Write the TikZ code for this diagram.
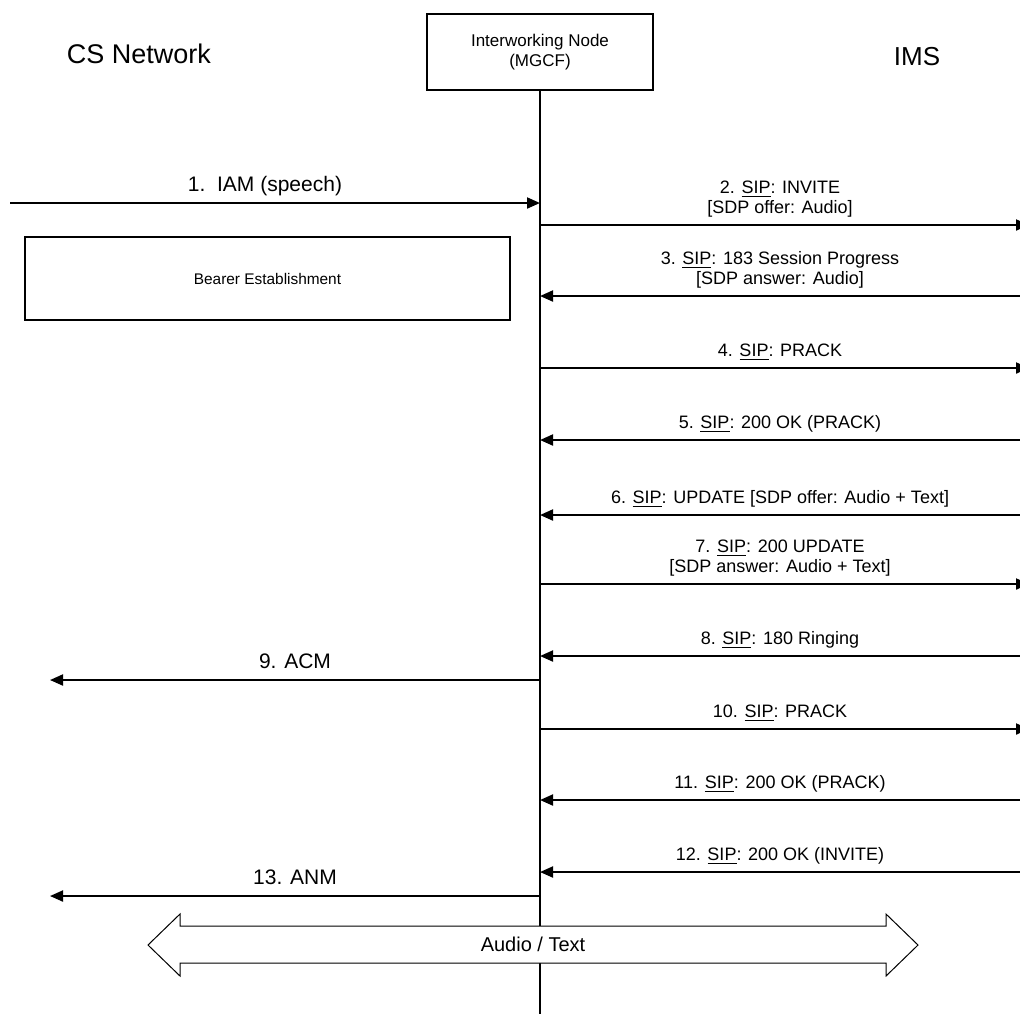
\documentclass[tikz,border=0pt]{standalone}
\usepackage{fontspec}
\setmainfont{Liberation Sans}
\usetikzlibrary{arrows.meta}
\tikzset{
  msg/.style={line width=1pt,-{Triangle[length=6.5pt,width=5.5pt]}},
  lbl/.style={font=\fontsize{9}{10}\selectfont,align=center,above,
              text depth=0.25em,inner sep=3pt},
  isup/.style={font=\fontsize{10.5}{12}\selectfont,above,
               text depth=0.25em,inner sep=3pt},
  title/.style={font=\fontsize{13.5}{15}\selectfont},
  box/.style={draw,line width=0.75pt},
}
\newcommand{\sip}{\underline{SIP}}

\begin{document}
\begin{tikzpicture}[x=0.5pt,y=-0.5pt]
  \clip (0,0) rectangle (1020,1014);
  % entities
  \node[title] (cs) at (139,54) {CS Network};
  \node[title,font=\fontsize{13}{15}\selectfont] (ims) at (917,57) {IMS};
  \node[box,minimum width=113pt,minimum height=38pt,align=center,
        font=\fontsize{8.5}{10}\selectfont]
    (mgcf) at (540,52) {Interworking Node\\(MGCF)};
  \coordinate (bottom) at (540,1014);
  \draw[line width=0.75pt] (mgcf.south) -- (bottom);

  % call setup
  \coordinate (iam) at (10,203);
  \draw[msg] (iam) -- (iam -| mgcf)
    node[isup,midway,xshift=-5pt] {1.\ \ IAM (speech)};
  \coordinate (invite) at (1020,225);
  \draw[msg,shorten >=-4.5pt] (invite -| mgcf) -- (invite)
    node[lbl,midway] {2. \sip: INVITE\\{}[SDP offer: Audio]};
  \node[box,minimum width=242.5pt,minimum height=41.5pt,
        font=\fontsize{7.7}{9}\selectfont]
    (bearer) at (267.5,278.5) {Bearer Establishment};
  \coordinate (progress) at (1020,296);
  \draw[msg] (progress) -- (progress -| mgcf)
    node[lbl,midway] {3. \sip: 183 Session Progress\\{}[SDP answer: Audio]};
  \coordinate (prack) at (1020,368);
  \draw[msg,shorten >=-4.5pt] (prack -| mgcf) -- (prack)
    node[lbl,midway] {4. \sip: PRACK};
  \coordinate (okprack) at (1020,440);
  \draw[msg] (okprack) -- (okprack -| mgcf)
    node[lbl,midway] {5. \sip: 200 OK (PRACK)};

  % adding text
  \coordinate (update) at (1020,515);
  \draw[msg] (update) -- (update -| mgcf)
    node[lbl,midway] {6. \sip: UPDATE [SDP offer: Audio + Text]};
  \coordinate (okupdate) at (1020,584);
  \draw[msg,shorten >=-4.5pt] (okupdate -| mgcf) -- (okupdate)
    node[lbl,midway] {7. \sip: 200 UPDATE\\{}[SDP answer: Audio + Text]};

  % alerting and answer
  \coordinate (ringing) at (1020,656);
  \draw[msg] (ringing) -- (ringing -| mgcf)
    node[lbl,midway] {8. \sip: 180 Ringing};
  \coordinate (acm) at (50,680);
  \draw[msg] (acm -| mgcf) -- (acm)
    node[isup,midway] {9. ACM};
  \coordinate (prack2) at (1020,729);
  \draw[msg,shorten >=-4.5pt] (prack2 -| mgcf) -- (prack2)
    node[lbl,midway] {10. \sip: PRACK};
  \coordinate (okprack2) at (1020,800);
  \draw[msg] (okprack2) -- (okprack2 -| mgcf)
    node[lbl,midway] {11. \sip: 200 OK (PRACK)};
  \coordinate (okinvite) at (1020,872);
  \draw[msg] (okinvite) -- (okinvite -| mgcf)
    node[lbl,midway] {12. \sip: 200 OK (INVITE)};
  \coordinate (anm) at (50,896);
  \draw[msg] (anm -| mgcf) -- (anm)
    node[isup,midway] {13. ANM};

  % media path
  \draw[line width=0.5pt,fill=white]
    (148,945) -- (180,914) -- (180,926) -- (886,926) -- (886,914)
    -- (918,945) -- (886,976) -- (886,963) -- (180,963) -- (180,976) -- cycle;
  \node[font=\fontsize{10}{12}\selectfont] (media) at (533,944) {Audio / Text};
\end{tikzpicture}
\end{document}
